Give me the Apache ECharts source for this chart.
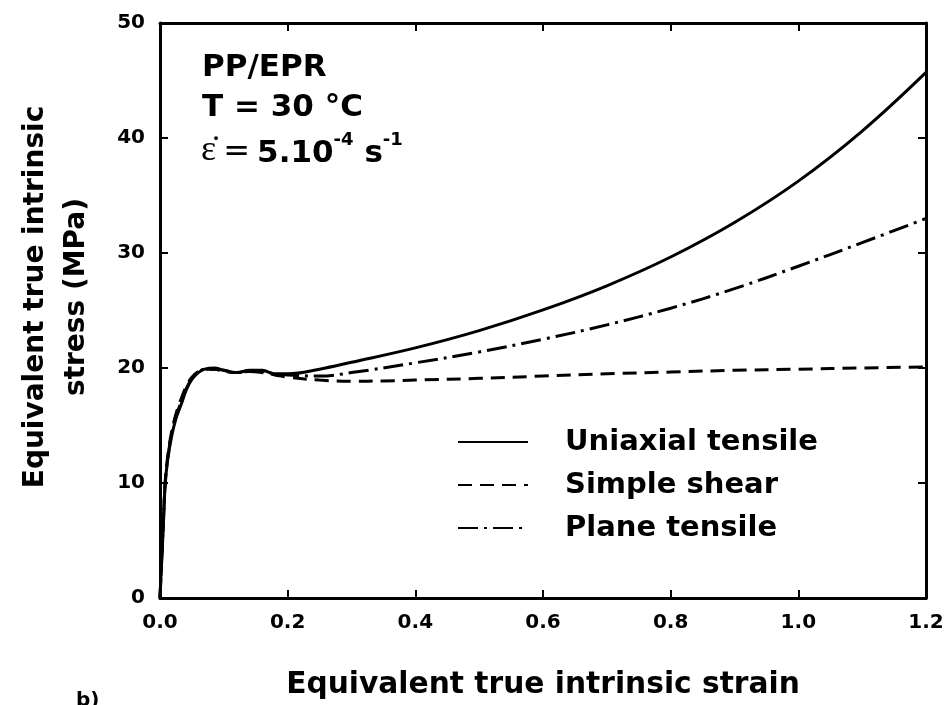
<!DOCTYPE html>
<html>
<head>
<meta charset="utf-8">
<script src="https://cdn.jsdelivr.net/npm/echarts@6/dist/echarts.min.js"></script>
<style>html,body{margin:0;padding:0;background:#fff;}#c{width:952px;height:705px;}</style>
</head>
<body>
<div id="c"></div>
<script>
// ---- data ----
const xTicks = [0.0, 0.2, 0.4, 0.6, 0.8, 1.0, 1.2];
const yTicks = [0, 10, 20, 30, 40, 50];

const uniaxialStrain = [0, 0.002, 0.005, 0.008, 0.012, 0.018, 0.025, 0.033, 0.042, 0.05, 0.06, 0.07, 0.085, 0.1, 0.12, 0.14, 0.16, 0.18, 0.2, 0.25, 0.3, 0.4, 0.5, 0.6, 0.7, 0.8, 0.9, 1.0, 1.1, 1.2];
const uniaxialStress = [0, 2.5, 6, 9.8, 12, 14, 15.6, 16.8, 18.2, 19, 19.6, 19.9, 20, 19.8, 19.6, 19.8, 19.8, 19.5, 19.5, 19.9, 20.5, 21.75, 23.25, 25.05, 27.15, 29.65, 32.65, 36.25, 40.6, 45.7];

const shearStrain = [0, 0.002, 0.005, 0.008, 0.012, 0.018, 0.025, 0.033, 0.042, 0.05, 0.06, 0.07, 0.085, 0.1, 0.12, 0.14, 0.16, 0.18, 0.2, 0.25, 0.3, 0.35, 0.4, 0.5, 0.6, 0.7, 0.8, 0.9, 1.0, 1.1, 1.2];
const shearStress = [0, 2.6, 6.2, 10, 12.3, 14.4, 16, 17.3, 18.5, 19.2, 19.7, 19.9, 19.9, 19.7, 19.6, 19.7, 19.6, 19.4, 19.2, 18.95, 18.85, 18.88, 18.95, 19.1, 19.3, 19.5, 19.65, 19.8, 19.9, 20.0, 20.1];

const planeStrain = [0, 0.002, 0.005, 0.008, 0.012, 0.018, 0.025, 0.033, 0.042, 0.05, 0.06, 0.07, 0.085, 0.1, 0.12, 0.14, 0.16, 0.18, 0.2, 0.25, 0.3, 0.4, 0.5, 0.6, 0.7, 0.8, 0.9, 1.0, 1.1, 1.2];
const planeStress = [0, 2.5, 6.1, 9.9, 12.1, 14.2, 15.8, 17, 18.3, 19.1, 19.6, 19.9, 19.9, 19.8, 19.6, 19.7, 19.7, 19.5, 19.4, 19.3, 19.6, 20.45, 21.4, 22.5, 23.75, 25.2, 26.9, 28.85, 30.9, 33.0];

const seriesNames = ['Uniaxial tensile', 'Simple shear', 'Plane tensile'];
const annotationLines = ['PP/EPR', 'T = 30 °C'];
const xTitle = 'Equivalent true intrinsic strain';
const yTitle = ['Equivalent true intrinsic', 'stress (MPa)'];

// ---- chart ----
const pair = (xs, ys) => xs.map((x, i) => [x, ys[i]]);
const FONT = 'DejaVu Sans';
const chart = echarts.init(document.getElementById('c'), null, {renderer: 'canvas'});

const axisCommon = {
  type: 'value',
  axisLine: {show: true, onZero: false, lineStyle: {color: '#000', width: 3}},
  axisTick: {show: true, inside: true, length: 8, lineStyle: {color: '#000', width: 2}},
  splitLine: {show: false}
};

const option = {
  backgroundColor: '#fff',
  animation: false,
  grid: {left: 160, right: 26, top: 23, bottom: 107, containLabel: false},
  xAxis: [
    Object.assign({}, axisCommon, {
      position: 'bottom', min: xTicks[0], max: xTicks[xTicks.length - 1], interval: 0.2,
      axisLabel: {color: '#000', fontFamily: FONT, fontWeight: 'bold', fontSize: 20, margin: 15,
        formatter: v => v.toFixed(1)},
      name: xTitle, nameLocation: 'middle', nameGap: 72,
      nameTextStyle: {color: '#000', fontFamily: FONT, fontWeight: 'bold', fontSize: 29.7}
    }),
    Object.assign({}, axisCommon, {
      position: 'top', min: xTicks[0], max: xTicks[xTicks.length - 1], interval: 0.2,
      axisLabel: {show: false}
    })
  ],
  yAxis: [
    Object.assign({}, axisCommon, {
      position: 'left', min: yTicks[0], max: yTicks[yTicks.length - 1], interval: 10,
      axisLabel: {color: '#000', fontFamily: FONT, fontWeight: 'bold', fontSize: 20, margin: 15}
    }),
    Object.assign({}, axisCommon, {
      position: 'right', min: yTicks[0], max: yTicks[yTicks.length - 1], interval: 10,
      axisLabel: {show: false}
    })
  ],
  legend: {
    orient: 'vertical', left: 452, top: 422,
    itemWidth: 70, itemHeight: 30, itemGap: 13,
    itemStyle: {opacity: 0, color: 'transparent', borderColor: 'transparent', borderWidth: 0},
    textStyle: {color: '#000', fontFamily: FONT, fontWeight: 'bold', fontSize: 29, lineHeight: 30,
      padding: [0, 0, 0, 32]},
    data: seriesNames
  },
  series: [
    {name: seriesNames[0], type: 'line', data: pair(uniaxialStrain, uniaxialStress), showSymbol: false, symbol: 'none',
      smooth: 0.4, lineStyle: {color: '#000', width: 3, type: 'solid'}, itemStyle: {color: '#000'}},
    {name: seriesNames[1], type: 'line', data: pair(shearStrain, shearStress), showSymbol: false, symbol: 'none',
      smooth: 0.4, lineStyle: {color: '#000', width: 3, type: [14, 8]}, itemStyle: {color: '#000'}},
    {name: seriesNames[2], type: 'line', data: pair(planeStrain, planeStress), showSymbol: false, symbol: 'none',
      smooth: 0.4, lineStyle: {color: '#000', width: 3, type: [20, 6, 3, 6]}, itemStyle: {color: '#000'}}
  ],
  graphic: [
    {type: 'text', left: 202, top: 52, style: {text: annotationLines[0], fill: '#000',
      font: 'bold 31px "' + FONT + '"'}},
    {type: 'text', left: 202, top: 92, style: {text: annotationLines[1], fill: '#000',
      font: 'bold 31px "' + FONT + '"'}},
    {type: 'text', left: 201, top: 131, style: {
      text: '{e|ε\u0307}{eq|=}{b|5.10}{sup|-4}{b| s}{sup|-1}',
      fill: '#000',
      rich: {
        e: {fontFamily: 'Liberation Serif', fontSize: 36, fill: '#000', lineHeight: 38, verticalAlign: 'bottom'},
        eq: {fontFamily: FONT, fontSize: 32, fill: '#000', lineHeight: 38, verticalAlign: 'bottom', width: 41, align: 'center'},
        b: {fontFamily: FONT, fontWeight: 'bold', fontSize: 31, fill: '#000', lineHeight: 38, verticalAlign: 'bottom'},
        sup: {fontFamily: FONT, fontWeight: 'bold', fontSize: 18, fill: '#000', lineHeight: 38, verticalAlign: 'top'}
      }
    }},
    {type: 'text', x: 56, y: 297, rotation: Math.PI / 2, style: {
      text: yTitle.join('\n'), fill: '#000', align: 'center', verticalAlign: 'middle',
      font: 'bold 28px "' + FONT + '"', lineHeight: 41}},
    {type: 'text', left: 76, top: 691, style: {text: 'b)', fill: '#000', font: 'bold 20px "' + FONT + '"'}}
  ]
};
chart.setOption(option);
</script>
</body>
</html>
